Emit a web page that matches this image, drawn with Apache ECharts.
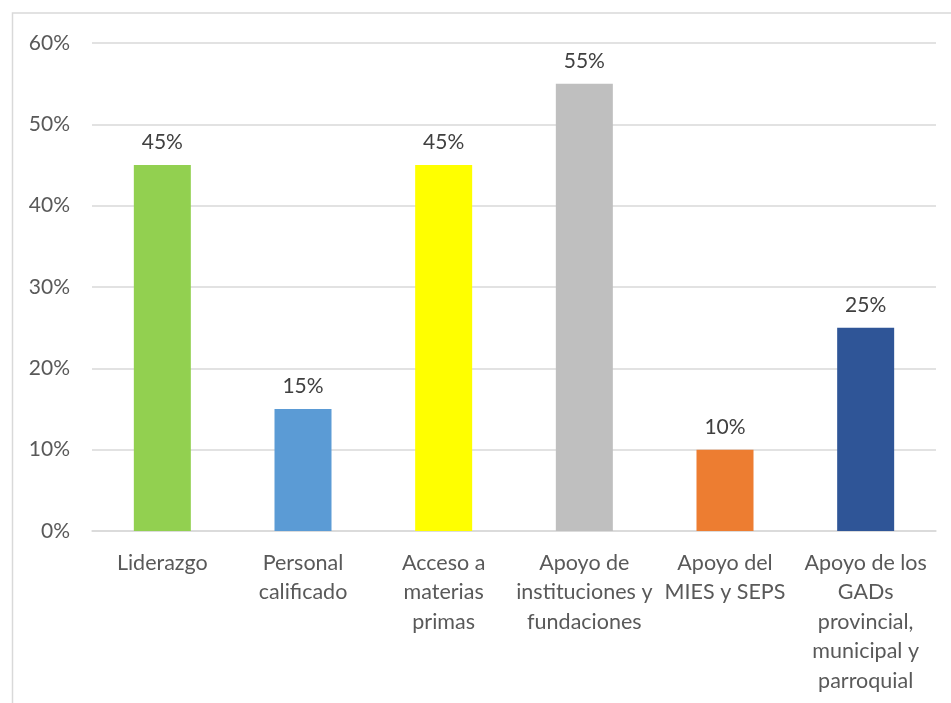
<!DOCTYPE html>
<html><head><meta charset="utf-8">
<script src="https://cdn.jsdelivr.net/npm/echarts@6/dist/echarts.min.js"></script>
<style>html,body{margin:0;padding:0;background:#fff}#c{width:951px;height:703px}</style>
</head><body><div id="c"></div>
<script>
const categories = ["Liderazgo","Personal\ncalificado","Acceso a\nmaterias\nprimas","Apoyo de\ninstituciones y\nfundaciones","Apoyo del\nMIES y SEPS","Apoyo de los\nGADs\nprovincial,\nmunicipal y\nparroquial"];
const values = [45,15,45,55,10,25];
const colors = ["#92D050","#5B9BD5","#FFFF00","#BFBFBF","#ED7D31","#2F5597"];
const yTicks = [0,10,20,30,40,50,60];

const chart = echarts.init(document.getElementById('c'));
const font = "Lato, 'Open Sans', sans-serif";
chart.setOption({
  animation:false,
  graphic:[{type:'rect',shape:{x:12.5,y:13,width:1000,height:800},style:{fill:'none',stroke:'#D9D9D9',lineWidth:1.5},silent:true}],
  grid:{left:92,right:15,top:43,bottom:172,containLabel:false},
  xAxis:{type:'category',data:categories,
    axisLine:{show:true,lineStyle:{color:'#D9D9D9',width:1.5}},axisTick:{show:false},
    axisLabel:{interval:0,color:'#595959',fontSize:21.5,fontFamily:font,lineHeight:29.5,margin:17,align:'center',verticalAlign:'top'}},
  yAxis:{type:'value',min:yTicks[0],max:yTicks[yTicks.length-1],interval:10,
    axisLine:{show:false},axisTick:{show:false},
    splitLine:{lineStyle:{color:'#D9D9D9',width:1.5}},
    axisLabel:{formatter:v=>v+'%',color:'#595959',fontSize:21,fontFamily:font,margin:22}},
  series:[{type:'bar',barWidth:57,
    data:values.map((v,i)=>({value:v,itemStyle:{color:colors[i]}})),
    label:{show:true,position:'top',distance:12,formatter:p=>p.value+'%',color:'#404040',fontSize:21,fontFamily:font}}]
});
</script></body></html>
